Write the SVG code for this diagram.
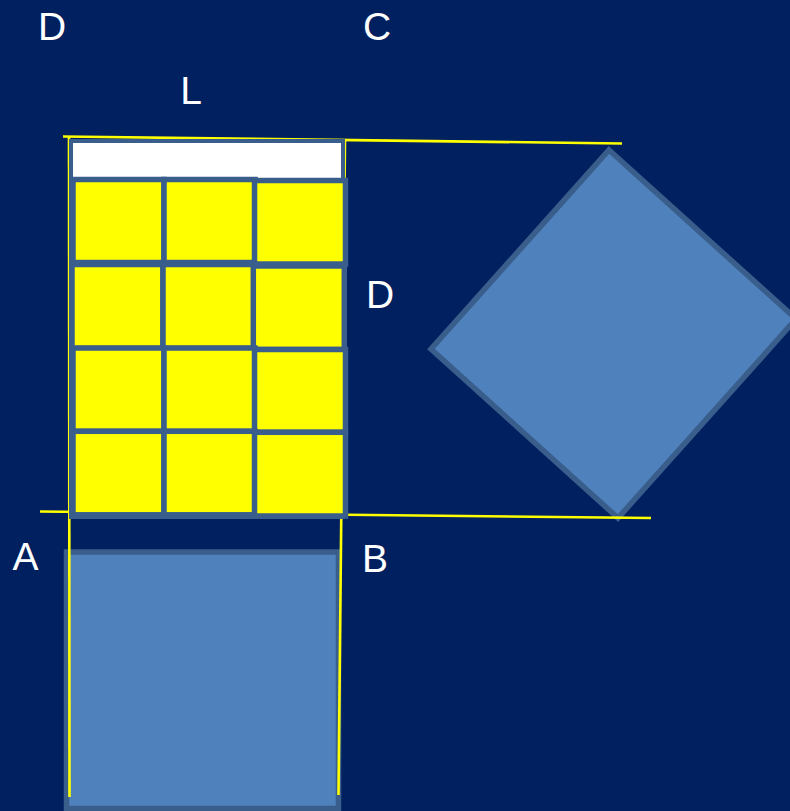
<svg xmlns="http://www.w3.org/2000/svg" width="790" height="811" viewBox="0 0 790 811">
<style>
.lbl{font-family:"Liberation Sans","Open Sans",sans-serif;font-size:39px;fill:#FFFFFF;text-anchor:middle}
.shape{fill:#4F81BD;stroke:#3A5E8C;stroke-width:5.5;stroke-linejoin:miter}
.cell{fill:#FFFF00;stroke:#3A5E8C;stroke-width:5.5}
.guide{stroke:#FFFF00;stroke-width:2.6;fill:none}
</style>
<rect x="0" y="0" width="790" height="811" fill="#002060"/>
<g id="square-bottom">
<rect class="shape" x="66.5" y="552" width="272" height="256.5"/>
</g>
<g id="square-diamond">
<polygon class="shape" points="609,150 796,319 618,518 431,349"/>
</g>
<g id="connectors">
<line class="guide" x1="63" y1="136.5" x2="622" y2="143.5"/>
<line class="guide" x1="40" y1="511.5" x2="651" y2="518"/>
<line class="guide" x1="69" y1="137" x2="69.5" y2="797" stroke-width="3"/>
<line class="guide" x1="345" y1="140" x2="338.5" y2="795"/>
</g>
<g id="grid">
<rect x="71" y="141" width="272" height="376" fill="#FFFFFF" stroke="#3A5E8C" stroke-width="4"/>
<rect class="cell" x="73" y="179.5" width="91" height="83"/>
<rect class="cell" x="164" y="179.5" width="91" height="83"/>
<rect class="cell" x="254.5" y="180.5" width="91" height="83.5"/>
<rect class="cell" x="72" y="264.5" width="91" height="84"/>
<rect class="cell" x="163" y="264.5" width="91" height="84"/>
<rect class="cell" x="253.3" y="266" width="91" height="83.5"/>
<rect class="cell" x="73" y="348" width="91" height="83.3"/>
<rect class="cell" x="164" y="348" width="91" height="83.3"/>
<rect class="cell" x="254.5" y="349.5" width="91" height="82.8"/>
<rect class="cell" x="73" y="431.3" width="91" height="83.5"/>
<rect class="cell" x="164" y="431.3" width="91" height="83.5"/>
<rect class="cell" x="254.5" y="432.3" width="91" height="83.7"/>
</g>
<g id="labels">
<text class="lbl" x="52" y="40">D</text>
<text class="lbl" x="377" y="40">C</text>
<text class="lbl" x="191" y="104">L</text>
<text class="lbl" x="380" y="308">D</text>
<text class="lbl" x="25.5" y="570">A</text>
<text class="lbl" x="375" y="572">B</text>
</g>
</svg>
